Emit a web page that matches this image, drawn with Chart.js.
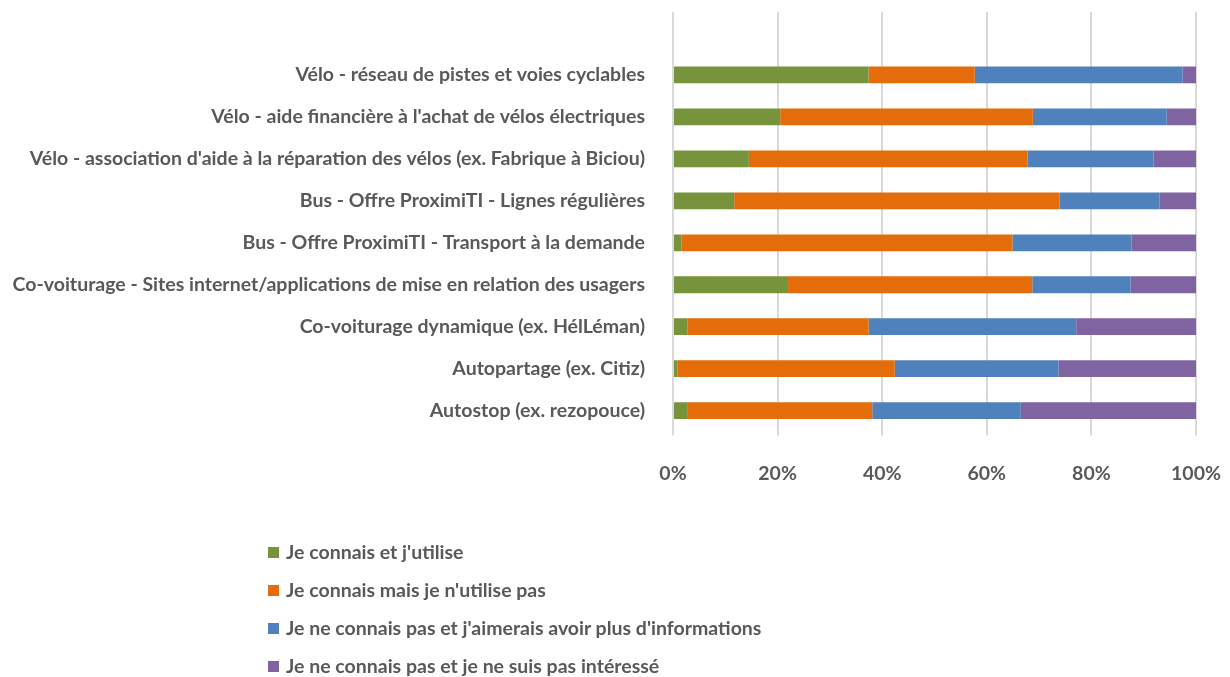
<!DOCTYPE html>
<html>
<head>
<meta charset="utf-8">
<script src="https://cdn.jsdelivr.net/npm/chart.js@4"></script>
<style>
  html, body { margin: 0; padding: 0; background: #fff; }
  #wrap { position: relative; width: 1230px; height: 677px; }
  #legend { position: absolute; left: 268px; top: 538px; font: bold 19.5px Lato, sans-serif; color: #595959; }
  #legend div { height: 38px; line-height: 28px; white-space: nowrap; }
  #legend span { display: inline-block; width: 11px; height: 11px; margin-right: 7px; vertical-align: 1px; }
</style>
</head>
<body>
<div id="wrap">
  <canvas id="canvas" width="1230" height="677"></canvas>
  <div id="legend"></div>
</div>
<script>
// empty first category: the reference keeps a blank row at the top
var categories = [
    '',
    'Vélo - réseau de pistes et voies cyclables',
    'Vélo - aide financière à l\'achat de vélos électriques',
    'Vélo - association d\'aide à la réparation des vélos (ex. Fabrique à Biciou)',
    'Bus - Offre ProximiTI - Lignes régulières',
    'Bus - Offre ProximiTI - Transport à la demande',
    'Co-voiturage - Sites internet/applications de mise en relation des usagers',
    'Co-voiturage dynamique (ex. HélLéman)',
    'Autopartage (ex. Citiz)',
    'Autostop (ex. rezopouce)'
];
var seriesNames = [
    'Je connais et j\'utilise',
    'Je connais mais je n\'utilise pas',
    'Je ne connais pas et j\'aimerais avoir plus d\'informations',
    'Je ne connais pas et je ne suis pas intéressé'
];
var connaitUtilise = [null, 37.4, 20.5, 14.5, 11.7, 1.6, 22.0, 2.8, 0.9, 2.7];
var connaitPasUtilise = [null, 20.3, 48.3, 53.3, 62.2, 63.3, 46.7, 34.6, 41.5, 35.4];
var veutInfos = [null, 39.7, 25.6, 24.1, 19.1, 22.8, 18.8, 39.7, 31.3, 28.4];
var pasInteresse = [null, 2.6, 5.6, 8.1, 7.0, 12.3, 12.5, 22.9, 26.3, 33.5];
var xTicks = [0, 20, 40, 60, 80, 100];

var colors = ['#77933C', '#E46C0A', '#4F81BD', '#8064A2'];
var textColor = '#595959';
var font = { family: 'Lato, sans-serif', size: 19.5, weight: 'bold' };

var allSeries = [connaitUtilise, connaitPasUtilise, veutInfos, pasInteresse];
var datasets = allSeries.map(function(d, i) {
    return {
        label: seriesNames[i],
        data: d,
        backgroundColor: colors[i],
        borderWidth: 0,
        barPercentage: 0.4,
        categoryPercentage: 1.0
    };
});

var config = {
    type: 'bar',
    data: { labels: categories, datasets: datasets },
    options: {
        indexAxis: 'y',
        responsive: false,
        animation: false,
        layout: { padding: { left: 10, right: 34, top: 12, bottom: 166 } },
        plugins: {
            legend: { display: false },
            tooltip: { enabled: false }
        },
        scales: {
            x: {
                stacked: true,
                min: 0,
                max: 100,
                afterBuildTicks: function(scale) {
                    scale.ticks = xTicks.map(function(v) { return { value: v }; });
                },
                afterFit: function(scale) {
                    scale.paddingLeft = 0;
                    scale.paddingRight = 0;
                },
                grid: { color: '#D9D9D9', lineWidth: 2, drawTicks: true, tickLength: 4 },
                border: { display: false },
                ticks: {
                    color: textColor,
                    font: font,
                    padding: 26,
                    maxRotation: 0,
                    callback: function(v) { return v + '%'; }
                }
            },
            y: {
                stacked: true,
                grid: { display: false },
                border: { display: false },
                afterFit: function(scale) {
                    scale.width = 663;
                    scale.paddingTop = 0;
                    scale.paddingBottom = 0;
                },
                ticks: { color: textColor, font: font, padding: 20, autoSkip: false }
            }
        }
    }
};

window.onload = function() {
    window.myBar = new Chart(document.getElementById('canvas'), config);
    var leg = document.getElementById('legend');
    seriesNames.forEach(function(name, i) {
        var row = document.createElement('div');
        var box = document.createElement('span');
        box.style.background = colors[i];
        row.appendChild(box);
        row.appendChild(document.createTextNode(name));
        leg.appendChild(row);
    });
};
</script>
</body>
</html>
